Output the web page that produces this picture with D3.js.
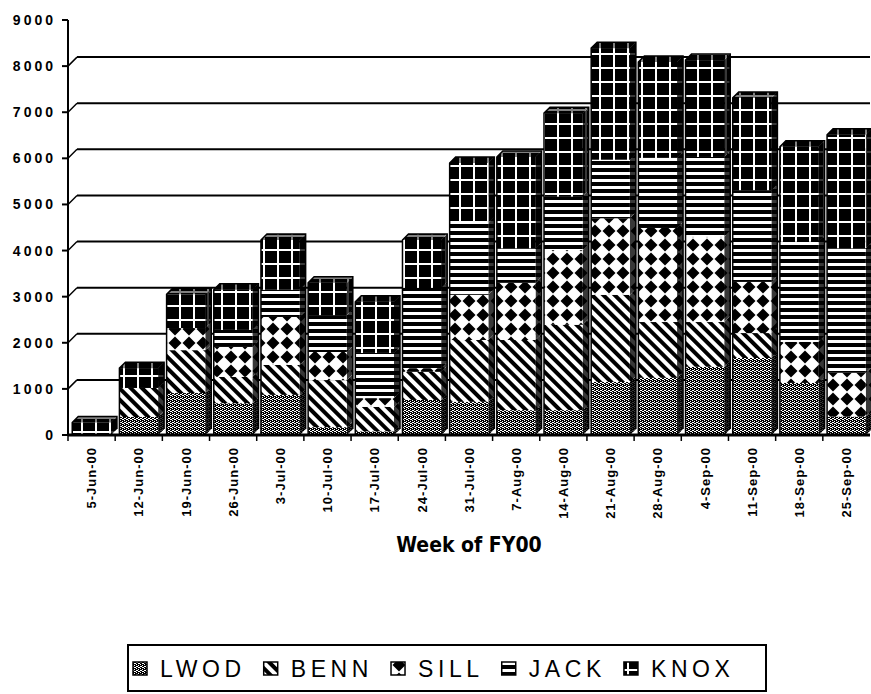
<!DOCTYPE html>
<html>
<head>
<meta charset="utf-8">
<script src="https://cdn.jsdelivr.net/npm/d3@7"></script>
<style>
  body { margin: 0; background: #fff; }
  svg { display: block; }
  text { font-family: "Liberation Sans", Arial, Helvetica, sans-serif; fill: #000; }
</style>
</head>
<body>
<svg id="chart" width="871" height="694"></svg>
<script>
var weeks = ["5-Jun-00", "12-Jun-00", "19-Jun-00", "26-Jun-00", "3-Jul-00", "10-Jul-00",
             "17-Jul-00", "24-Jul-00", "31-Jul-00", "7-Aug-00", "14-Aug-00", "21-Aug-00",
             "28-Aug-00", "4-Sep-00", "11-Sep-00", "18-Sep-00", "25-Sep-00"];
var sites = ["LWOD", "BENN", "SILL", "JACK", "KNOX"];

// weekly counts per site
var lwod = [0, 390, 910, 690, 870, 170, 80, 760, 720, 540, 540, 1150, 1240, 1480, 1670, 1130, 400];
var benn = [0, 630, 930, 570, 650, 1020, 530, 610, 1340, 1520, 1850, 1890, 1210, 970, 540, 0, 0];
var sill = [0, 0, 480, 650, 1040, 610, 190, 80, 980, 1240, 1620, 1660, 2040, 1850, 1110, 890, 950];
var jack = [0, 0, 0, 370, 590, 800, 980, 1740, 1560, 750, 1160, 1270, 1520, 1730, 1990, 2170, 2700];
var knox = [270, 430, 730, 870, 1080, 700, 1110, 1040, 1300, 1980, 1810, 2420, 2080, 2100, 2000, 2060, 2460];

var yTicks = [0, 1000, 2000, 3000, 4000, 5000, 6000, 7000, 8000, 9000];
var xTitle = "Week of FY00";

(function () {

var series = { LWOD: lwod, BENN: benn, SILL: sill, JACK: jack, KNOX: knox };
var rows = weeks.map(function (w, i) {
  var r = { week: w };
  sites.forEach(function (s) { r[s] = series[s][i]; });
  return r;
});

var svg = d3.select("#chart");
var left = 68, right = 870, plotTop = 20, bottom = 435;
var depth = 6;      // bar depth offset
var wall = 9;       // back wall offset

var x = d3.scaleBand().domain(weeks).range([left, right])
  .paddingInner(0.18).paddingOuter(0.09);
var y = d3.scaleLinear().domain([0, 9000]).range([bottom, plotTop]);

var defs = svg.append("defs");

// LWOD: grey stipple
var p = defs.append("pattern").attr("id", "pat-LWOD")
  .attr("patternUnits", "userSpaceOnUse").attr("width", 4).attr("height", 4);
p.append("rect").attr("width", 4).attr("height", 4).attr("fill", "#000");
[[0, 0], [2, 1], [1, 2], [3, 3], [2, 3], [0, 2]].forEach(function (d) {
  p.append("rect").attr("x", d[0]).attr("y", d[1]).attr("width", 1).attr("height", 1).attr("fill", "#fff");
});

// BENN: diagonal stripes
p = defs.append("pattern").attr("id", "pat-BENN")
  .attr("patternUnits", "userSpaceOnUse").attr("width", 8).attr("height", 8)
  .attr("patternTransform", "rotate(-45)");
p.append("rect").attr("width", 8).attr("height", 8).attr("fill", "#fff");
p.append("rect").attr("width", 4).attr("height", 8).attr("fill", "#000");

// SILL: diamonds
p = defs.append("pattern").attr("id", "pat-SILL")
  .attr("patternUnits", "userSpaceOnUse").attr("width", 14).attr("height", 14);
p.append("rect").attr("width", 14).attr("height", 14).attr("fill", "#fff");
p.append("path").attr("d", "M7,0.5L13.5,7L7,13.5L0.5,7Z").attr("fill", "#000");

// JACK: horizontal lines
p = defs.append("pattern").attr("id", "pat-JACK")
  .attr("patternUnits", "userSpaceOnUse").attr("width", 7).attr("height", 7);
p.append("rect").attr("width", 7).attr("height", 7).attr("fill", "#000");
p.append("rect").attr("y", 4).attr("width", 7).attr("height", 3).attr("fill", "#fff");

// KNOX: white grid on black
p = defs.append("pattern").attr("id", "pat-KNOX")
  .attr("patternUnits", "userSpaceOnUse").attr("width", 14).attr("height", 14);
p.append("rect").attr("width", 14).attr("height", 14).attr("fill", "#000");
p.append("rect").attr("x", 11).attr("width", 2).attr("height", 14).attr("fill", "#fff");
p.append("rect").attr("y", 11).attr("width", 14).attr("height", 2).attr("fill", "#fff");

///////////////////////////////////////////////////////////////////////////////
// back wall gridlines and value axis

var grid = svg.append("g");
yTicks.forEach(function (v) {
  var yy = y(v);
  grid.append("line").attr("x1", left - 6).attr("x2", left).attr("y1", yy).attr("y2", yy)
    .attr("stroke", "#000").attr("stroke-width", 2);
  if (v > 0 && v < 9000) {
    grid.append("line").attr("x1", left).attr("y1", yy).attr("x2", left + wall).attr("y2", yy - wall)
      .attr("stroke", "#000").attr("stroke-width", 1.5);
    grid.append("line").attr("x1", left + wall).attr("x2", right).attr("y1", yy - wall).attr("y2", yy - wall)
      .attr("stroke", "#000").attr("stroke-width", 2);
  }
  grid.append("text").attr("x", left - 12).attr("y", yy).attr("dy", "0.36em")
    .attr("text-anchor", "end").style("font-size", "14px").style("font-weight", "bold")
    .style("letter-spacing", "3px").text(v);
});
grid.append("line").attr("x1", left).attr("x2", left).attr("y1", plotTop).attr("y2", bottom)
  .attr("stroke", "#000").attr("stroke-width", 2);

///////////////////////////////////////////////////////////////////////////////
// 3D stacked columns

var stacked = d3.stack().keys(sites)(rows);
var bars = svg.append("g");

weeks.forEach(function (w, i) {
  var x0 = x(w), x1 = x(w) + x.bandwidth();
  var g = bars.append("g");
  var topY = null, topKey = null;
  stacked.forEach(function (layer) {
    var d = layer[i];
    if (d[1] - d[0] <= 0) return;
    var ya = y(d[0]), yb = y(d[1]);
    var fill = "url(#pat-" + layer.key + ")";
    // side face
    var side = "M" + x1 + "," + ya + "L" + (x1 + depth) + "," + (ya - depth) +
      "L" + (x1 + depth) + "," + (yb - depth) + "L" + x1 + "," + yb + "Z";
    g.append("path").attr("d", side).attr("fill", fill);
    g.append("path").attr("d", side).attr("fill", "#000").attr("fill-opacity", 0.78);
    // front face
    g.append("rect").attr("x", x0).attr("y", yb).attr("width", x1 - x0).attr("height", ya - yb)
      .attr("fill", fill);
    topY = yb; topKey = layer.key;
  });
  if (topY !== null) {
    var tp = "M" + x0 + "," + topY + "L" + (x0 + depth) + "," + (topY - depth) +
      "L" + (x1 + depth) + "," + (topY - depth) + "L" + x1 + "," + topY + "Z";
    g.append("path").attr("d", tp).attr("fill", "url(#pat-" + topKey + ")");
    g.append("path").attr("d", tp).attr("fill", "#000").attr("fill-opacity", 0.5);
    g.append("path")
      .attr("d", "M" + x0 + "," + bottom + "L" + x0 + "," + topY + "L" + (x0 + depth) + "," + (topY - depth) +
        "L" + (x1 + depth) + "," + (topY - depth) + "L" + (x1 + depth) + "," + (bottom - depth))
      .attr("fill", "none").attr("stroke", "#000").attr("stroke-width", 1.5);
  }
});

///////////////////////////////////////////////////////////////////////////////
// category axis

var step = x.step();
var xa = svg.append("g");
xa.append("line").attr("x1", left).attr("x2", right).attr("y1", bottom).attr("y2", bottom)
  .attr("stroke", "#000").attr("stroke-width", 3);
weeks.forEach(function (w, i) {
  var tx = left + i * step;
  xa.append("line").attr("x1", tx).attr("x2", tx).attr("y1", bottom).attr("y2", bottom + 6)
    .attr("stroke", "#000").attr("stroke-width", 1.5);
  var cx = x(w) + x.bandwidth() / 2;
  xa.append("text").attr("transform", "translate(" + cx + "," + (bottom + 12) + ") rotate(-90)")
    .attr("text-anchor", "end").attr("dy", "0.36em")
    .style("font-size", "13px").style("font-weight", "bold").style("letter-spacing", "1px")
    .text(w);
});

svg.append("text").attr("x", (left + right) / 2).attr("y", 552).attr("text-anchor", "middle")
  .style("font-family", "'DejaVu Sans Condensed', 'Liberation Sans Narrow', sans-serif")
  .style("font-size", "21px").style("font-weight", "bold").text(xTitle);

///////////////////////////////////////////////////////////////////////////////
// legend

var lg = svg.append("g");
lg.append("rect").attr("x", 128).attr("y", 645).attr("width", 638).attr("height", 46)
  .attr("fill", "#fff").attr("stroke", "#000").attr("stroke-width", 2);
var lx = 133;
sites.forEach(function (s) {
  lg.append("rect").attr("x", lx).attr("y", 662).attr("width", 14).attr("height", 13)
    .attr("fill", "url(#pat-" + s + ")").attr("stroke", "#000").attr("stroke-width", 1.5);
  var t = lg.append("text").attr("x", lx + 27).attr("y", 677)
    .style("font-size", "23px").style("letter-spacing", "4.6px").text(s);
  lx = lx + 27 + t.node().getComputedTextLength() + 18;
});

})();
</script>
</body>
</html>
